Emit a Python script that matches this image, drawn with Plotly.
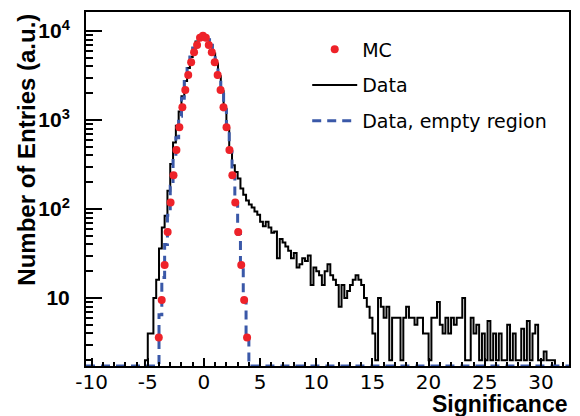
import numpy as np
import plotly.graph_objects as go

# ---------------- data ----------------
# Data histogram (black): bins of width 0.25 starting at -5.25
data_start = -5.25
bin_width = 0.25
data_counts = [
    2, 4, 4, 10, 16, 36, 62, 84, 160, 320, 560, 860,            # -5.25 .. -2.25
    1250, 1850, 2750, 3850, 5100, 6400, 7600, 8450,              # -2.25 .. -0.25
    8800, 8650, 7950, 6900, 5600, 4300, 3100, 2100,              # -0.25 .. 1.75
    1320, 800, 470, 310, 260, 220, 170, 145,                     # 1.75 .. 3.75
    125, 112, 104, 94, 86, 72, 64, 72,                           # 3.75 .. 5.75
    62, 54, 56, 28, 46, 42, 38, 34,                              # 5.75 .. 7.75
    28, 32, 22, 24, 28, 26, 30, 14,                              # 7.75 .. 9.75
    22, 20, 18, 14, 20, 24, 18, 16,                              # 9.75 .. 11.75
    14, 8, 14, 10, 12, 14, 16, 18,                               # 11.75 .. 13.75
    16, 14, 10, 8, 6, 4, 2, 10,                                  # 13.75 .. 15.75
    8, 6, 8, 2, 6, 6, 6, 2,                                      # 15.75 .. 17.75
    6, 8, 6, 6, 5, 6, 6, 4,                                      # 17.75 .. 19.75
    4, 2, 6, 6, 9, 5, 4, 6,                                      # 19.75 .. 21.75
    4, 6, 5, 6, 6, 10, 2, 2,                                     # 21.75 .. 23.75
    6, 4, 5, 2, 4, 2, 5.5, 2,                                    # 23.75 .. 25.75
    4, 2, 4, 2, 2, 5, 2, 4,                                      # 25.75 .. 27.75
    2, 2, 4.5, 2, 5.5, 2, 4, 5,                                  # 27.75 .. 29.75
    2, 2, 2.5, 2, 2, 2, 0,                                       # 29.75 .. 31.5
]

# Data, empty region (blue dashed): bins of width 0.25 starting at -4.0
empty_start = -4.0
empty_counts = [
    6.5, 17, 40, 85, 180, 350, 630, 1100,
    1750, 2700, 3800, 5100, 6450, 7600, 8450, 8850,
    8650, 8000, 6900, 5600, 4300, 3050, 2050, 1300,
    780, 440, 230, 112, 52, 23, 9.3, 3.6,
]

# MC (red dots)
mc_x = [-4.02, -3.76, -3.50, -3.23, -2.97, -2.71, -2.45, -2.19, -1.92, -1.66,
        -1.40, -1.14, -0.88, -0.61, -0.35, -0.09, 0.17, 0.43, 0.70, 0.96,
        1.22, 1.48, 1.74, 2.01, 2.27, 2.53, 2.79, 3.05, 3.32, 3.58, 3.84]
mc_y = [3.6, 9.5, 23.5, 55, 118, 240, 460, 830, 1390, 2180,
        3200, 4450, 5770, 6960, 8400, 8850, 8400, 6960, 5770, 4450,
        3200, 2180, 1390, 830, 460, 240, 118, 55, 23.5, 9.5, 3.6]

x_range = [-10.5, 32.5]
x_major = [-10, -5, 0, 5, 10, 15, 20, 25, 30]
x_major_text = ["-10", "-5", "0", "5", "10", "15", "20", "25", "30"]
y_log_range = [0.236, 4.2135]
y_major = [10, 100, 1000, 10000]
y_major_text = ["<b>10</b>", "<b>10<sup>2</sup></b>", "<b>10<sup>3</sup></b>", "<b>10<sup>4</sup></b>"]
y_minor = [m * 10 ** e for e in range(0, 5) for m in range(2, 10)]

floor = 10 ** y_log_range[0]


def step_xy(start, width, counts, lo=None, hi=None):
    edges = start + width * np.arange(len(counts) + 1)
    xs, ys = [], []
    if lo is not None:
        xs.append(lo); ys.append(floor)
    xs.append(edges[0]); ys.append(floor)
    for i, c in enumerate(counts):
        v = c if c > 0 else floor
        xs += [edges[i], edges[i + 1]]
        ys += [v, v]
    xs.append(edges[-1]); ys.append(floor)
    if hi is not None:
        xs.append(hi); ys.append(floor)
    return xs, ys


dx, dy = step_xy(data_start, bin_width, data_counts)
ex, ey = step_xy(empty_start, bin_width, empty_counts, x_range[0], x_range[1])

fig = go.Figure()
fig.add_trace(go.Scatter(x=dx, y=dy, mode="lines", name="Data",
                         line=dict(color="black", width=2), legendrank=2,
                         legendgroup="b"))
fig.add_trace(go.Scatter(x=ex, y=ey, mode="lines", name="Data, empty region",
                         line=dict(color="#3a58a8", width=3, dash="9px,6px"),
                         legendrank=3, legendgroup="c"))
fig.add_trace(go.Scatter(x=mc_x, y=mc_y, mode="markers", name="MC",
                         marker=dict(color="#ee2229", size=8), legendrank=1,
                         legendgroup="a"))

fig.update_layout(
    width=580, height=416,
    margin=dict(l=86, r=9, t=12, b=50),
    plot_bgcolor="white", paper_bgcolor="white",
    showlegend=True,
    legend=dict(x=0.458, y=0.948, xanchor="left", yanchor="top",
                font=dict(family="DejaVu Sans", size=19, color="black"),
                bgcolor="rgba(0,0,0,0)", tracegroupgap=8, itemwidth=45),
)
fig.update_xaxes(
    range=x_range, showgrid=False, zeroline=False,
    showline=True, linecolor="black", linewidth=2, mirror=True,
    ticks="inside", ticklen=8, tickwidth=1.5, tickcolor="black",
    tickmode="array", tickvals=x_major, ticktext=x_major_text,
    minor=dict(ticks="inside", ticklen=4, dtick=1, tick0=0, tickcolor="black", tickwidth=1.5),
    tickfont=dict(family="DejaVu Sans", size=20, color="black"),
    ticklabelstandoff=-3,
)
fig.update_yaxes(
    type="log", range=y_log_range, showgrid=False, zeroline=False,
    showline=True, linecolor="black", linewidth=2, mirror=True,
    ticks="inside", ticklen=16, tickwidth=1.5, tickcolor="black",
    tickmode="array", tickvals=y_major, ticktext=y_major_text,
    minor=dict(ticks="inside", ticklen=7, tickmode="array", tickvals=y_minor,
               tickcolor="black", tickwidth=1.5),
    tickfont=dict(family="Liberation Sans", size=21, color="black"),
    ticklabelstandoff=10,
)

fig.add_annotation(text="Significance", xref="paper", yref="paper",
                   x=1.0, y=-0.106, xanchor="right", yanchor="middle",
                   showarrow=False,
                   font=dict(family="Liberation Sans", size=23, color="black", weight="bold"))
fig.add_annotation(text="Number of Entries (a.u.)", xref="paper", yref="paper",
                   x=-0.125, y=0.61, xanchor="center", yanchor="middle",
                   textangle=-90, showarrow=False,
                   font=dict(family="Liberation Sans", size=24, color="black", weight="bold"))

fig.write_html("out.html")
